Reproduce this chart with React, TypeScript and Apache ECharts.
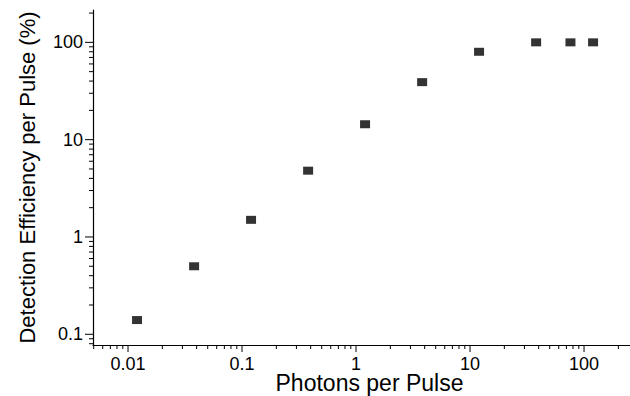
import React, { useEffect, useRef } from "react";
import * as echarts from "echarts";

// Data
const photonsPerPulse = [0.012, 0.038, 0.12, 0.38, 1.2, 3.8, 12, 38, 76, 120];
const efficiencyPct = [0.14, 0.5, 1.5, 4.8, 14.4, 39, 80, 100, 100, 100];

// Axis ranges
const X_MIN = 0.00493;
const X_MAX = 253;
const Y_MIN = 0.0776;
const Y_MAX = 215;

// Decade (major) tick values
const xMajorTicks = [0.01, 0.1, 1, 10, 100];
const yMajorTicks = [0.1, 1, 10, 100];
const minorMultipliers = [2, 3, 4, 5, 6, 7, 8, 9];

function minorTicks(lo: number, hi: number): number[] {
  const out: number[] = [];
  for (let d = Math.floor(Math.log10(lo)); d <= Math.ceil(Math.log10(hi)); d++) {
    for (const k of minorMultipliers) {
      const v = Number((k * Math.pow(10, d)).toPrecision(3));
      if (v >= lo && v <= hi) out.push(v);
    }
  }
  return out;
}

const FONT = "'Liberation Sans', Arial, sans-serif";

export default function App() {
  const ref = useRef<HTMLDivElement>(null);

  useEffect(() => {
    if (!ref.current) return;
    const chart = echarts.init(ref.current, undefined, { renderer: "svg" });

    const xTickData = [
      ...xMajorTicks.map((v) => [v, Y_MIN, 7]),
      ...minorTicks(X_MIN, X_MAX).map((v) => [v, Y_MIN, 4]),
    ];
    const yTickData = [
      ...yMajorTicks.map((v) => [X_MIN, v, 8]),
      ...minorTicks(Y_MIN, Y_MAX).map((v) => [X_MIN, v, 4]),
    ];

    const fmt = (v: number) => String(Number(Number(v).toPrecision(3)));

    chart.setOption({
      animation: false,
      backgroundColor: "#fff",
      grid: {
        left: 93,
        right: 0,
        top: 10,
        bottom: 51,
        containLabel: false,
        outerBoundsMode: "none",
      },
      xAxis: {
        type: "log",
        logBase: 10,
        min: X_MIN,
        max: X_MAX,
        name: "Photons per Pulse",
        nameLocation: "middle",
        nameGap: 29,
        nameMoveOverlap: false,
        nameTextStyle: {
          fontFamily: FONT,
          fontSize: 23,
          lineHeight: 18,
          color: "#000",
          padding: [0, 0, 0, 16],
        },
        axisLine: { lineStyle: { color: "#000", width: 1.2 } },
        axisTick: { show: false },
        minorTick: { show: false },
        splitLine: { show: false },
        axisLabel: {
          margin: 10,
          fontFamily: FONT,
          fontSize: 18,
          lineHeight: 18,
          color: "#000",
          showMinLabel: false,
          showMaxLabel: false,
          formatter: fmt,
        },
      },
      yAxis: {
        type: "log",
        logBase: 10,
        min: Y_MIN,
        max: Y_MAX,
        name: "Detection Efficiency per Pulse (%)",
        nameLocation: "middle",
        nameGap: 55,
        nameRotate: 90,
        nameMoveOverlap: false,
        nameTextStyle: {
          fontFamily: FONT,
          fontSize: 22,
          color: "#000",
        },
        axisLine: { lineStyle: { color: "#000", width: 1.2 } },
        axisTick: { show: false },
        minorTick: { show: false },
        splitLine: { show: false },
        axisLabel: {
          margin: 10,
          fontFamily: FONT,
          fontSize: 18,
          color: "#000",
          showMinLabel: false,
          showMaxLabel: false,
          formatter: fmt,
        },
      },
      series: [
        {
          type: "scatter",
          data: photonsPerPulse.map((x, i) => [x, efficiencyPct[i]]),
          symbol: "rect",
          symbolSize: [10, 8],
          itemStyle: { color: "#000" },
          z: 5,
        },
        {
          type: "custom",
          clip: false,
          silent: true,
          data: xTickData,
          renderItem: (params: any, api: any) => {
            const p = api.coord([api.value(0), api.value(1)]);
            const len = api.value(2);
            return {
              type: "line",
              shape: { x1: p[0], y1: p[1], x2: p[0], y2: p[1] + len },
              style: { stroke: "#000", lineWidth: 1 },
            };
          },
        },
        {
          type: "custom",
          clip: false,
          silent: true,
          data: yTickData,
          renderItem: (params: any, api: any) => {
            const p = api.coord([api.value(0), api.value(1)]);
            const len = api.value(2);
            return {
              type: "line",
              shape: { x1: p[0] - len, y1: p[1], x2: p[0], y2: p[1] },
              style: { stroke: "#000", lineWidth: 1 },
            };
          },
        },
      ],
    });

    return () => chart.dispose();
  }, []);

  return (
    <div
      ref={ref}
      style={{ position: "fixed", left: 0, top: 0, width: 630, height: 396 }}
    />
  );
}
